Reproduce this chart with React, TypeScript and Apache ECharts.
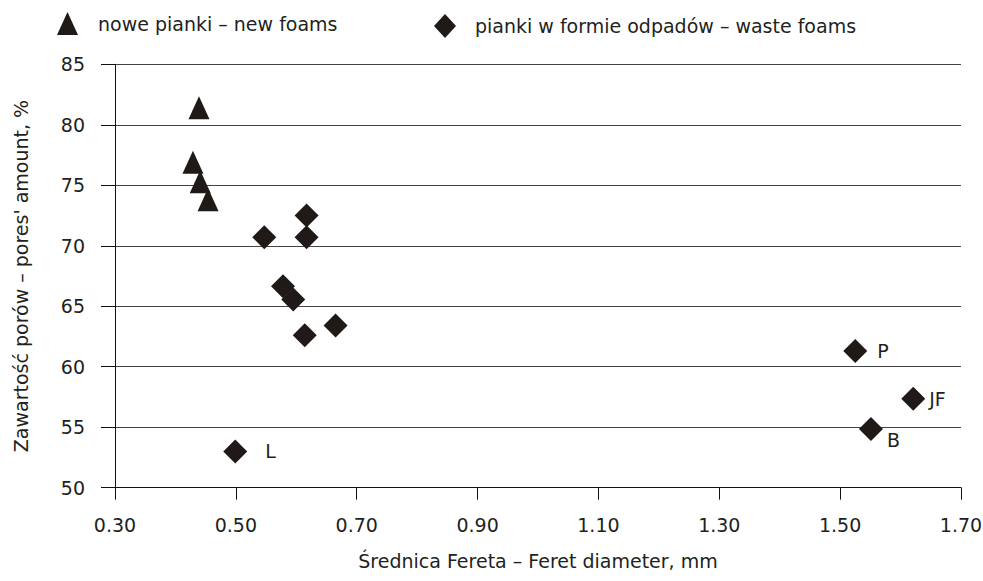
import React, { useEffect, useRef } from "react";
import * as echarts from "echarts";

const newFoams: [number, number][] = [
  [0.439, 81.4],
  [0.429, 76.9],
  [0.441, 75.3],
  [0.454, 73.8],
];

const wasteFoams: [number, number][] = [
  [0.547, 70.7],
  [0.617, 72.5],
  [0.617, 70.7],
  [0.578, 66.65],
  [0.595, 65.55],
  [0.614, 62.6],
  [0.665, 63.4],
  [0.499, 53.0],
  [1.525, 61.3],
  [1.621, 57.35],
  [1.551, 54.86],
];

const wasteLabels: string[] = ["", "", "", "", "", "", "", "L", "P", "JF", "B"];

const seriesNames = ["nowe pianki – new foams", "pianki w formie odpadów – waste foams"];
const xTitle = "Średnica Fereta – Feret diameter, mm";
const yTitle = "Zawartość porów – pores' amount, %";

const FONT = "DejaVu Sans";
const FS = 19;
const INK = "#231f20";

export default function App() {
  const ref = useRef<HTMLDivElement>(null);
  useEffect(() => {
    if (!ref.current) return;
    const chart = echarts.init(ref.current, undefined, { renderer: "svg" });
    const labelCfg: Record<string, any> = {
      L: { position: "right", distance: 18 },
      P: { position: "right", distance: 10 },
      JF: { position: "right", distance: 4 },
      B: { position: [28, 14], align: "left", verticalAlign: "top" },
    };
    const wasteData = wasteFoams.map((v, i) => {
      const name = wasteLabels[i];
      if (!name) return { value: v };
      return {
        value: v,
        name,
        label: { show: true, formatter: name, color: INK, fontFamily: FONT, fontSize: FS, ...labelCfg[name] },
      };
    });
    chart.setOption({
      animation: false,
      backgroundColor: "#ffffff",
      textStyle: { fontFamily: FONT, color: INK },
      legend: [
        {
          data: [{ name: seriesNames[0], icon: "triangle" }],
          left: 57,
          top: 12,
          padding: 0,
          itemWidth: 21,
          itemHeight: 23,
          symbolKeepAspect: false,
          textStyle: { fontFamily: FONT, fontSize: FS, color: INK, padding: [0, 0, 0, 15] },
          selectedMode: false,
        },
        {
          data: [{ name: seriesNames[1], icon: "diamond" }],
          left: 434,
          top: 14,
          padding: 0,
          itemWidth: 22,
          itemHeight: 24,
          symbolKeepAspect: false,
          textStyle: { fontFamily: FONT, fontSize: FS, color: INK, padding: [0, 0, 0, 14] },
          selectedMode: false,
        },
      ],
      grid: { left: 115, right: 22, top: 64.3, bottom: 93.3, containLabel: false, outerBoundsMode: "none" },
      xAxis: {
        type: "value",
        min: 0.3,
        max: 1.7,
        interval: 0.2,
        name: xTitle,
        nameLocation: "middle",
        nameGap: 64,
        nameTextStyle: { fontFamily: FONT, fontSize: FS, color: INK },
        axisLine: { show: true, onZero: false, lineStyle: { color: "#111", width: 1 } },
        axisTick: { show: true, length: 12, lineStyle: { color: "#111" } },
        axisLabel: { margin: 28, fontSize: FS, fontFamily: FONT, color: INK, formatter: (v: number) => v.toFixed(2) },
        splitLine: { show: false },
      },
      yAxis: {
        type: "value",
        min: 50,
        max: 85,
        interval: 5,
        name: yTitle,
        nameLocation: "middle",
        nameGap: 85,
        nameTextStyle: { fontFamily: FONT, fontSize: FS, color: INK },
        axisLine: { show: true, lineStyle: { color: "#111", width: 1 } },
        axisTick: { show: true, length: 14, lineStyle: { color: "#111" } },
        axisLabel: { margin: 30, fontSize: FS, fontFamily: FONT, color: INK },
        splitLine: { show: true, lineStyle: { color: "#444", width: 1.2 } },
      },
      series: [
        {
          name: seriesNames[0],
          type: "scatter",
          symbol: "triangle",
          symbolSize: [21, 23],
          itemStyle: { color: "#1f1a17", opacity: 1 },
          data: newFoams,
        },
        {
          name: seriesNames[1],
          type: "scatter",
          symbol: "diamond",
          symbolSize: [24, 24],
          itemStyle: { color: "#1f1a17", opacity: 1 },
          data: wasteData,
        },
      ],
    });
    return () => chart.dispose();
  }, []);
  return <div ref={ref} style={{ position: "fixed", left: 0, top: 0, width: 983, height: 581 }} />;
}
